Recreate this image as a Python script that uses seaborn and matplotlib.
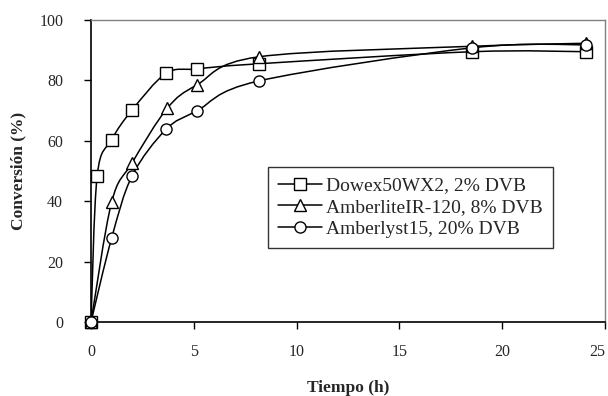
import numpy as np
import pandas as pd
import matplotlib
matplotlib.use("Agg")
import matplotlib.pyplot as plt
import seaborn as sns
from matplotlib.path import Path
from matplotlib.patches import PathPatch
from matplotlib.lines import Line2D

# datos
t_dowex = [0, 0.3, 1.0, 2.0, 3.65, 5.15, 8.15, 18.55, 24.1]
conv_dowex = [0, 48.4, 60.3, 70.2, 82.3, 83.8, 85.5, 89.5, 89.5]

t_amberlite = [0, 1.0, 2.0, 3.7, 5.15, 8.15, 18.55, 24.1]
conv_amberlite = [0, 39.6, 52.7, 70.7, 78.5, 87.8, 91.3, 92.3]

t_amberlyst = [0, 1.0, 2.0, 3.65, 5.15, 8.15, 18.55, 24.1]
conv_amberlyst = [0, 27.7, 48.4, 63.8, 69.9, 79.8, 90.8, 91.8]

labels = ["Dowex50WX2, 2% DVB", "AmberliteIR-120, 8% DVB", "Amberlyst15, 20% DVB"]
markers = ["s", "^", "o"]
series = [(t_dowex, conv_dowex), (t_amberlite, conv_amberlite), (t_amberlyst, conv_amberlyst)]

sns.set_style("white")
plt.rcParams["font.family"] = ["Liberation Serif", "DejaVu Serif"]


def smooth_path(x, y):
    # curva suavizada tipo Excel (Bezier por los puntos)
    pts = np.column_stack([x, y]).astype(float)
    n = len(pts)
    verts = [pts[0]]
    codes = [Path.MOVETO]
    for i in range(n - 1):
        p0 = pts[i - 1] if i > 0 else pts[i]
        p1, p2 = pts[i], pts[i + 1]
        p3 = pts[i + 2] if i + 2 < n else pts[i + 1]
        verts += [p1 + (p2 - p0) / 6, p2 - (p3 - p1) / 6, p2]
        codes += [Path.CURVE4] * 3
    return Path(verts, codes)


fig = plt.figure(figsize=(6.08, 3.96), dpi=100)
ax = fig.add_axes([91 / 608, 1 - 322 / 396, 514 / 608, 302 / 396])

handles = []
for (t, c), lab, m in zip(series, labels, markers):
    ax.add_patch(PathPatch(smooth_path(t, c), fill=False, edgecolor="black", lw=1.1, zorder=2))
    df = pd.DataFrame({"t": t, "c": c})
    sns.lineplot(data=df, x="t", y="c", ax=ax, color="black", marker=m, markersize=8,
                 markerfacecolor="white", markeredgecolor="black", markeredgewidth=1,
                 linestyle="none", zorder=3, clip_on=False)
    handles.append(Line2D([], [], color="black", lw=1.1, marker=m, markersize=8,
                          markerfacecolor="white", markeredgecolor="black", markeredgewidth=1))

ax.set_xlim(0, 25)
ax.set_ylim(0, 100)
ax.set_xticks([0, 5, 10, 15, 20, 25])
ax.set_yticks([0, 20, 40, 60, 80, 100])
ax.tick_params(axis="both", direction="out", length=5, width=1, color="black",
               labelsize=11.5, bottom=True, left=True)
ax.tick_params(axis="x", pad=11)
ax.tick_params(axis="y", pad=15)
# el último rótulo se corre un poco para que quepa
ax.get_xticklabels()[-1].set_horizontalalignment("right")

for s in ["left", "bottom"]:
    ax.spines[s].set_color("black")
    ax.spines[s].set_linewidth(1.2)
for s in ["top", "right"]:
    ax.spines[s].set_color("#808080")
    ax.spines[s].set_linewidth(1)

ax.set_xlabel("Tiempo (h)", fontsize=12.5, fontweight="bold", labelpad=14)
ax.set_ylabel("Conversión (%)", fontsize=12.5, fontweight="bold", labelpad=9)

leg = ax.legend(handles, labels, loc="upper left", bbox_to_anchor=(0.344, 0.513),
                borderaxespad=0, fontsize=14, frameon=True, fancybox=False,
                edgecolor="black", handlelength=2.3, handletextpad=0.2,
                labelspacing=0.22, borderpad=0.5)
leg.get_frame().set_linewidth(1)

fig.savefig("out.png", dpi=100, facecolor="white")
